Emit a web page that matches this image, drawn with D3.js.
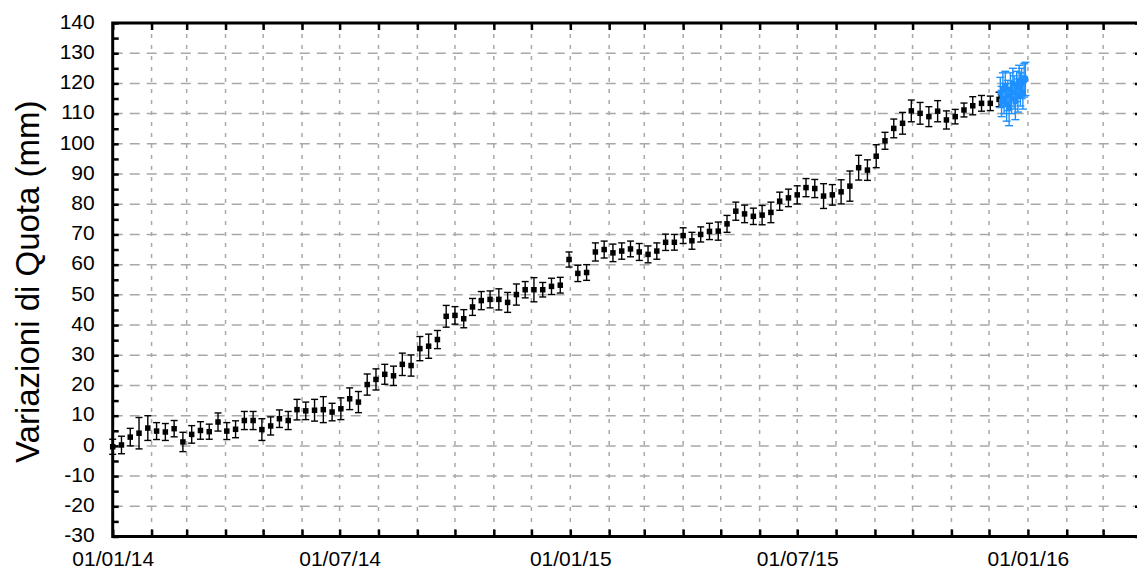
<!DOCTYPE html>
<html>
<head>
<meta charset="utf-8">
<script src="https://cdn.jsdelivr.net/npm/d3@7"></script>
<style>
  html, body { margin: 0; padding: 0; background: #fff; }
  svg { display: block; }
  text { font-family: "Liberation Sans", Arial, Helvetica, sans-serif; }
</style>
</head>
<body>
<svg id="chart" width="1137" height="570"></svg>
<script>
// ---------- DATA ----------
const blackDates = [
  "2014-01-01","2014-01-08","2014-01-15","2014-01-22","2014-01-29",
  "2014-02-05","2014-02-12","2014-02-19","2014-02-26",
  "2014-03-05","2014-03-12","2014-03-19","2014-03-26",
  "2014-04-02","2014-04-09","2014-04-16","2014-04-23","2014-04-30",
  "2014-05-07","2014-05-14","2014-05-21","2014-05-28",
  "2014-06-04","2014-06-11","2014-06-18","2014-06-25",
  "2014-07-02","2014-07-09","2014-07-16","2014-07-23","2014-07-30",
  "2014-08-06","2014-08-13","2014-08-20","2014-08-27",
  "2014-09-03","2014-09-10","2014-09-17","2014-09-24",
  "2014-10-01","2014-10-08","2014-10-15","2014-10-22","2014-10-29",
  "2014-11-05","2014-11-12","2014-11-19","2014-11-26",
  "2014-12-03","2014-12-10","2014-12-17","2014-12-24","2014-12-31",
  "2015-01-07","2015-01-14","2015-01-21","2015-01-28",
  "2015-02-04","2015-02-11","2015-02-18","2015-02-25",
  "2015-03-04","2015-03-11","2015-03-18","2015-03-25",
  "2015-04-01","2015-04-08","2015-04-15","2015-04-22","2015-04-29",
  "2015-05-06","2015-05-13","2015-05-20","2015-05-27",
  "2015-06-03","2015-06-10","2015-06-17","2015-06-24",
  "2015-07-01","2015-07-08","2015-07-15","2015-07-22","2015-07-29",
  "2015-08-05","2015-08-12","2015-08-19","2015-08-26",
  "2015-09-02","2015-09-09","2015-09-16","2015-09-23","2015-09-30",
  "2015-10-07","2015-10-14","2015-10-21","2015-10-28",
  "2015-11-04","2015-11-11","2015-11-18","2015-11-25",
  "2015-12-02","2015-12-09"
];
const blackValues = [
  -0.3, 0.3, 2.9, 4.2, 5.9, 4.9, 4.6, 5.7, 1.3, 3.8,
  5.1, 4.7, 7.9, 4.9, 5.5, 8.4, 8.4, 5.4, 6.6, 9.0,
  8.4, 12.0, 11.6, 11.8, 12.0, 11.2, 12.3, 15.6, 14.5, 20.3,
  22.0, 23.7, 23.2, 27.0, 26.6, 32.2, 33.0, 35.2, 42.9, 43.2,
  42.1, 46.0, 48.1, 48.5, 48.5, 47.5, 50.1, 51.7, 51.7, 51.7,
  52.8, 53.2, 61.7, 57.1, 57.4, 64.2, 65.0, 63.9, 64.5, 65.2,
  64.2, 63.4, 64.5, 67.4, 67.4, 69.6, 67.9, 70.0, 71.0, 71.1,
  73.5, 77.7, 76.8, 76.0, 76.4, 77.3, 81.0, 82.1, 83.1, 85.5,
  85.2, 82.7, 83.1, 84.1, 86.0, 92.1, 91.3, 95.9, 101.0, 105.1,
  106.8, 110.9, 110.1, 109.0, 110.8, 107.9, 109.0, 111.2, 112.6, 113.4,
  113.4, 114.7
];
const blackErrors = [
  2.5, 2.9, 2.9, 5.2, 4.1, 2.8, 2.8, 2.7, 3.2, 2.9,
  2.9, 2.5, 3.0, 2.8, 2.8, 3.0, 3.0, 3.6, 3.0, 2.9,
  3.0, 3.4, 2.9, 3.6, 4.3, 2.9, 3.6, 3.6, 3.5, 3.5,
  3.5, 3.3, 3.2, 3.7, 3.5, 4.0, 4.0, 3.0, 3.6, 2.9,
  3.0, 2.8, 3.0, 2.8, 3.5, 3.3, 3.5, 2.7, 4.0, 2.4,
  2.7, 2.6, 2.5, 2.7, 2.6, 3.0, 2.8, 2.9, 2.7, 2.6,
  2.8, 2.8, 2.7, 2.7, 2.6, 2.6, 2.8, 2.5, 2.7, 3.0,
  2.8, 3.0, 2.9, 2.7, 3.2, 3.4, 3.0, 2.9, 3.0, 3.0,
  3.0, 4.1, 3.4, 4.0, 5.0, 4.1, 3.4, 3.8, 2.8, 3.1,
  3.6, 3.6, 3.6, 3.3, 3.5, 3.0, 2.4, 2.3, 3.0, 2.6,
  2.4, 2.4
];
const blueDates = [
  "2015-12-10","2015-12-11","2015-12-12","2015-12-13","2015-12-14",
  "2015-12-15","2015-12-16","2015-12-17","2015-12-18","2015-12-19",
  "2015-12-20","2015-12-21","2015-12-22","2015-12-23","2015-12-24",
  "2015-12-25","2015-12-26","2015-12-27","2015-12-28","2015-12-29",
  "2015-12-30"
];
const blueValues = [
  117, 114, 118, 115, 119, 113, 116, 112, 118, 115,
  120, 117, 114, 119, 116, 121, 118, 120, 117, 121, 121.5
];
const blueErrors = [
  5, 5, 5.5, 5, 5, 5.5, 5, 6, 5.5, 5,
  5, 5.5, 6, 5, 5.5, 5, 5.5, 5, 5.5, 5.5, 5.5
];
const yTickValues = [-30,-20,-10,0,10,20,30,40,50,60,70,80,90,100,110,120,130,140];
const xLabelDates = ["2014-01-01","2014-07-01","2015-01-01","2015-07-01","2016-01-01"];
const xDomain = ["2014-01-01","2016-04-01"];
const yDomain = [-30, 140];
const yLabel = "Variazioni di Quota (mm)";

// ---------- LAYOUT ----------
const parse = d3.utcParse("%Y-%m-%d");
const fmt = d3.utcFormat("%d/%m/%y");
const L = 112.7, R = 1142, T = 23, B = 536.5;

const svg = d3.select("#chart");
const x = d3.scaleUtc().domain(xDomain.map(parse)).range([L, R]);
const y = d3.scaleLinear().domain(yDomain).range([B, T]);

const months = d3.utcMonth.range(parse(xDomain[0]), d3.utcDay.offset(parse(xDomain[1]), 1));
const labelSet = new Set(xLabelDates);
const isoFmt = d3.utcFormat("%Y-%m-%d");

// grid
const grid = svg.append("g");
grid.selectAll("line.h").data(yTickValues.filter(v => v > yDomain[0] && v < yDomain[1]))
  .join("line")
  .attr("x1", L).attr("x2", R)
  .attr("y1", d => y(d)).attr("y2", d => y(d))
  .attr("stroke", "#a8a8a8").attr("stroke-width", 1.5)
  .attr("stroke-dasharray", "10,7");
grid.selectAll("line.v").data(months.filter(m => +m > +x.domain()[0] && +m < +x.domain()[1]))
  .join("line")
  .attr("x1", d => x(d)).attr("x2", d => x(d))
  .attr("y1", T).attr("y2", B)
  .attr("stroke", "#a8a8a8").attr("stroke-width", 1.5)
  .attr("stroke-dasharray", "4,7");

// axes
const tickStyle = g => {
  g.select(".domain").remove();
  g.selectAll(".tick line").attr("stroke", "#000").attr("stroke-width", 2.5);
  g.selectAll("text").attr("font-size", 21).attr("fill", "#000")
    .style("font-family", '"Liberation Sans", Arial, sans-serif');
};

svg.append("g").attr("transform", `translate(0,${B})`)
  .call(d3.axisBottom(x).tickValues(months).tickSizeInner(-7).tickSizeOuter(0)
    .tickPadding(15).tickFormat(d => labelSet.has(isoFmt(d)) ? fmt(d) : ""))
  .call(tickStyle);

svg.append("g").attr("transform", `translate(0,${T})`)
  .call(d3.axisTop(x).tickValues(months).tickSizeInner(-7).tickSizeOuter(0).tickFormat(""))
  .call(tickStyle);

svg.append("g").attr("transform", `translate(${L},0)`)
  .call(d3.axisLeft(y).tickValues(d3.range(-30, 141, 5)).tickSizeInner(-6).tickSizeOuter(0)
    .tickPadding(18).tickFormat(d => d % 10 === 0 ? d : ""))
  .call(tickStyle)
  .call(g => g.selectAll("text").attr("dy", "0.25em"));

svg.append("g").attr("transform", `translate(${R},0)`)
  .call(d3.axisRight(y).tickValues(yTickValues).tickSizeInner(-7).tickSizeOuter(0).tickFormat(""))
  .call(tickStyle);

// frame
svg.append("rect").attr("x", L).attr("y", T).attr("width", R - L).attr("height", B - T)
  .attr("fill", "none").attr("stroke", "#000").attr("stroke-width", 3);

// y title
svg.append("text")
  .attr("transform", `translate(39,${(T + B) / 2 + 2}) rotate(-90)`)
  .attr("text-anchor", "middle")
  .attr("font-size", 33)
  .attr("fill", "#000")
  .text(yLabel);

// series
function drawSeries(dates, values, errors, color, cap, size) {
  const data = dates.map((d, i) => ({ d: parse(d), v: values[i], e: errors[i] }));
  const g = svg.append("g");
  const pts = g.selectAll("g").data(data).join("g");
  pts.append("line")
    .attr("x1", d => x(d.d)).attr("x2", d => x(d.d))
    .attr("y1", d => y(d.v - d.e)).attr("y2", d => y(d.v + d.e))
    .attr("stroke", color).attr("stroke-width", 1.4);
  pts.append("line")
    .attr("x1", d => x(d.d) - cap / 2).attr("x2", d => x(d.d) + cap / 2)
    .attr("y1", d => y(d.v + d.e)).attr("y2", d => y(d.v + d.e))
    .attr("stroke", color).attr("stroke-width", 1.4);
  pts.append("line")
    .attr("x1", d => x(d.d) - cap / 2).attr("x2", d => x(d.d) + cap / 2)
    .attr("y1", d => y(d.v - d.e)).attr("y2", d => y(d.v - d.e))
    .attr("stroke", color).attr("stroke-width", 1.4);
  pts.append("rect")
    .attr("x", d => x(d.d) - size / 2).attr("y", d => y(d.v) - size / 2)
    .attr("width", size).attr("height", size)
    .attr("fill", color);
}
drawSeries(blackDates, blackValues, blackErrors, "#000", 7, 5.5);
drawSeries(blueDates, blueValues, blueErrors, "#1e90ff", 8, 5.5);
</script>
</body>
</html>
